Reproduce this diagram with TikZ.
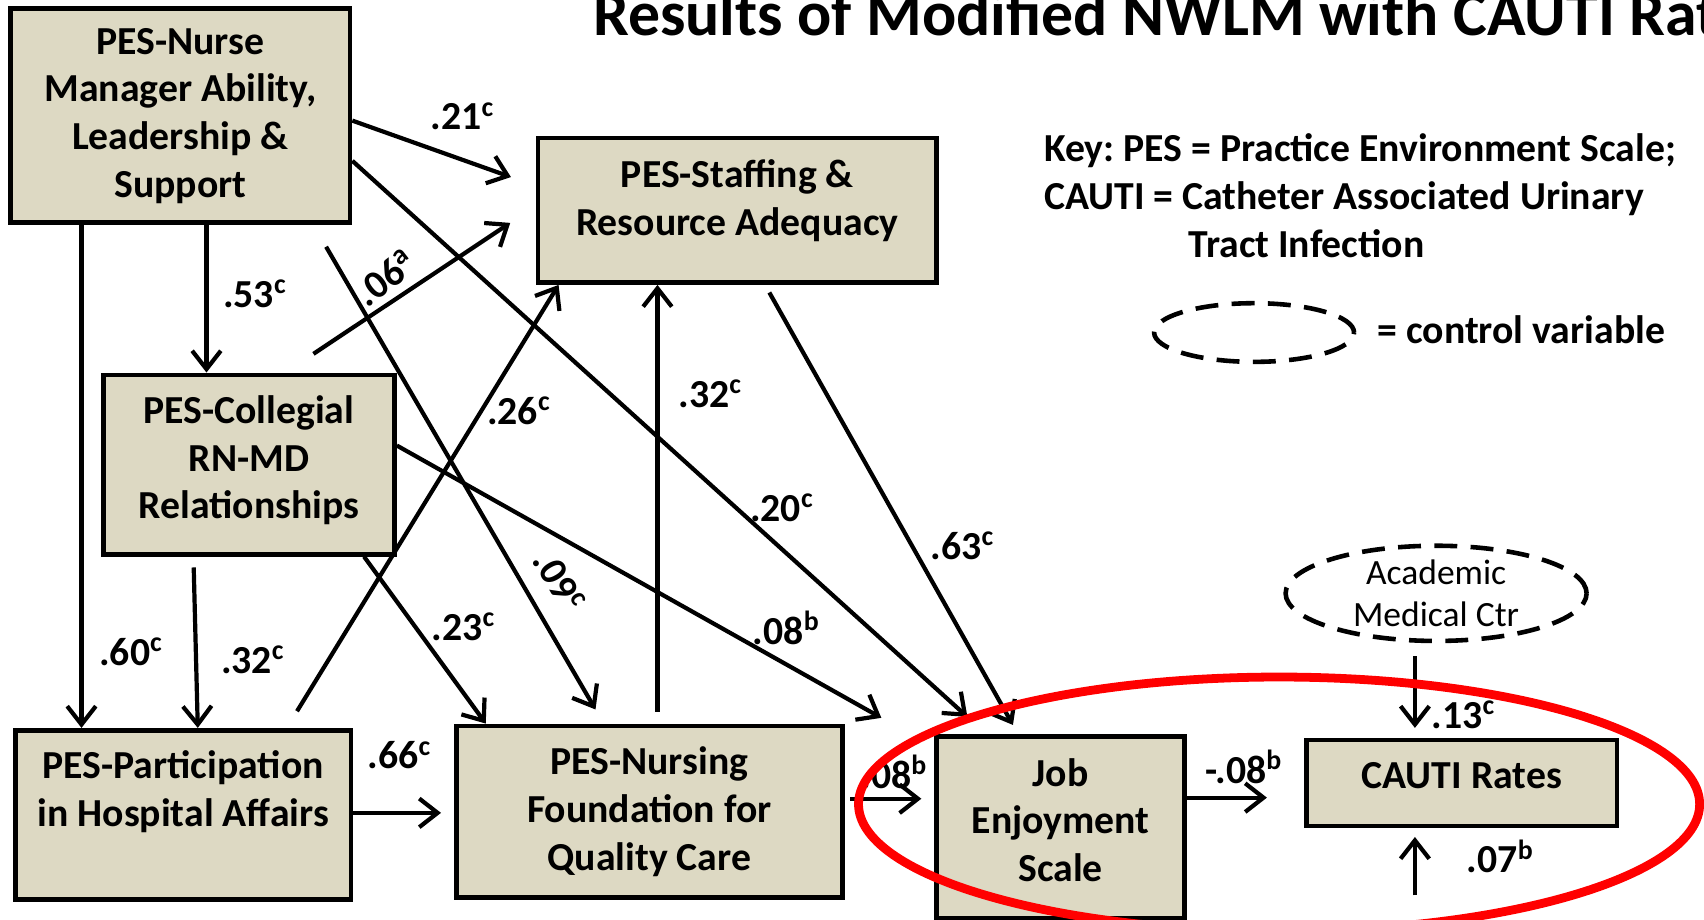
\documentclass[tikz,border=0pt]{standalone}
\usepackage{fontspec}
\setmainfont{Carlito}
\usepackage{xcolor}
\usepackage{tikz}
\usetikzlibrary{shapes.geometric,arrows.meta,positioning}
\definecolor{boxtan}{HTML}{DDD9C3}
\frenchspacing

\begin{document}
\begin{tikzpicture}[x=0.1mm, y=-0.1mm,
  box/.style={draw, line width=1.25pt, fill=boxtan, align=center, inner sep=0pt,
    font=\bfseries\fontsize{10.4}{12.5}\selectfont},
  arr/.style={-{Straight Barb[length=4.8pt,width=7.5pt]}, line width=1.1pt},
  coef/.style={font=\bfseries\fontsize{10.4}{12.5}\selectfont, inner sep=0pt},
  ctrl/.style={draw, ellipse, line width=1.2pt, dash pattern=on 6pt off 3.5pt, inner sep=0pt}]
\useasboundingbox (0,0) rectangle (1568,846);
\clip (0,0) rectangle (1568,846);

% Title and key
\node[anchor=base west, inner sep=0pt, font=\bfseries\fontsize{16.7}{20}\selectfont] (title) at (545,33)
  {Results of Modified NWLM with CAUTI Rates};
\node[anchor=west, align=left, inner sep=0pt, font=\bfseries\fontsize{10.4}{12.5}\selectfont] (key) at (960,180)
  {Key: PES = Practice Environment Scale;\\CAUTI = Catheter Associated Urinary\\\hspace*{1.33cm}Tract Infection};
\node[ctrl, minimum width=1.84cm, minimum height=0.54cm] (legend) at (1154,306) {};
\node[anchor=west, coef] (legendtext) at (1267,303) {= control variable};

% Boxes
\node[box, minimum width=3.12cm, minimum height=1.97cm] (nurse) at (166,106.5)
  {PES-Nurse\\Manager Ability,\\Leadership \&\\Support};
\node[box, minimum width=3.67cm, minimum height=1.33cm, text depth=6.8pt] (staffing) at (678.5,193.5)
  {PES-Staffing \&\\Resource Adequacy};
\node[box, minimum width=2.68cm, minimum height=1.65cm, text depth=3.8pt] (collegial) at (229,427.5)
  {PES-Collegial\\RN-MD\\Relationships};
\node[box, minimum width=3.09cm, minimum height=1.56cm, text depth=14pt] (particip) at (168.5,750)
  {PES-Participation\\in Hospital Affairs};
\node[box, minimum width=3.55cm, minimum height=1.58cm] (nursing) at (597.5,747)
  {PES-Nursing\\Foundation for\\Quality Care};
\node[box, minimum width=2.28cm, minimum height=1.67cm, text depth=4pt] (job) at (976,761.5)
  {Job\\Enjoyment\\Scale};
\node[box, minimum width=2.86cm, minimum height=0.79cm, text depth=4pt] (cauti) at (1345,720.5)
  {CAUTI Rates};
\node[ctrl, minimum width=2.77cm, minimum height=0.86cm, align=center,
  font=\fontsize{9.3}{11.1}\selectfont] (academic) at (1321.5,546)
  {Academic\\Medical Ctr};
\coordinate (resid) at (1302,824);

% Paths
\draw[arr, shorten >=0.24cm] (nurse.east |- 0,111) -- (staffing.west |- 0,171);
\draw[arr, shorten >=0.24cm] (nurse.east |- 0,148) -- (908,0 |- job.north);
\draw[arr] (190,0 |- nurse.south) -- (190,0 |- collegial.north);
\draw[arr] (75,0 |- nurse.south) -- (75,0 |- particip.north);
\draw[arr, shorten <=0.23cm, shorten >=0.15cm] (288.5,0 |- nurse.south) -- (555.5,0 |- nursing.north);
\draw[arr, shorten <=0.31cm, shorten >=0.28cm] (262.6,0 |- collegial.north) -- (staffing.west |- 0,189.6);
\draw[arr, shorten <=0.18cm] (263.9,0 |- particip.north) -- (514,0 |- staffing.south);
\draw[arr, shorten <=0.11cm] (605,0 |- nursing.north) -- (605,0 |- staffing.south);
\draw[arr, shorten <=0.08cm, shorten >=0.1cm] (704,0 |- staffing.south) -- (937,0 |- job.north);
\draw[arr, shorten <=0.1cm] (178,0 |- collegial.south) -- (182,0 |- particip.north);
\draw[arr] (335,0 |- collegial.south) -- (447,0 |- nursing.north);
\draw[arr, shorten >=0.56cm] (collegial.east |- 0,410) -- (job.west |- 0,688);
\draw[arr, shorten >=0.12cm] (particip.east |- 0,748) -- (nursing.west |- 0,748);
\draw[arr, shorten <=0.05cm, shorten >=0.12cm] (nursing.east |- 0,735) -- (job.west |- 0,735);
\draw[arr, shorten >=0.34cm] (job.east |- 0,734) -- (cauti.west |- 0,734);
\draw[arr, shorten <=0.12cm, shorten >=0.09cm] (1302,0 |- academic.south) -- (1302,0 |- cauti.north);
\draw[arr, shorten >=0.08cm] (resid) -- (1302,0 |- cauti.south);

% Coefficients
\node[coef] (c21) at (426,107) {.21\textsuperscript{c}};
\node[coef] (c53) at (235,270) {.53\textsuperscript{c}};
\node[coef, rotate=38] (c06) at (355,255) {.06\textsuperscript{a}};
\node[coef] (c26) at (478,378) {.26\textsuperscript{c}};
\node[coef] (c32a) at (654,362) {.32\textsuperscript{c}};
\node[coef] (c20) at (720,467) {.20\textsuperscript{c}};
\node[coef] (c63) at (886,502) {.63\textsuperscript{c}};
\node[coef, rotate=-60] (c09) at (515,535) {.09\textsuperscript{c}};
\node[coef] (c08a) at (724,578) {.08\textsuperscript{b}};
\node[coef] (c23) at (427,577) {.23\textsuperscript{c}};
\node[coef] (c60) at (121,600) {.60\textsuperscript{c}};
\node[coef] (c32b) at (233,607) {.32\textsuperscript{c}};
\node[coef] (c66) at (368,695) {.66\textsuperscript{c}};
\node[coef] (c08b) at (823,710) {.08\textsuperscript{b}};
\node[coef] (cm08) at (1145,706) {-.08\textsuperscript{b}};
\node[coef] (c13) at (1347,658) {.13\textsuperscript{c}};
\node[coef] (c07) at (1381,788) {.07\textsuperscript{b}};

% Highlight
\draw[red, line width=2.3pt] (1177,740) ellipse [x radius=387, y radius=117];
\end{tikzpicture}
\end{document}
